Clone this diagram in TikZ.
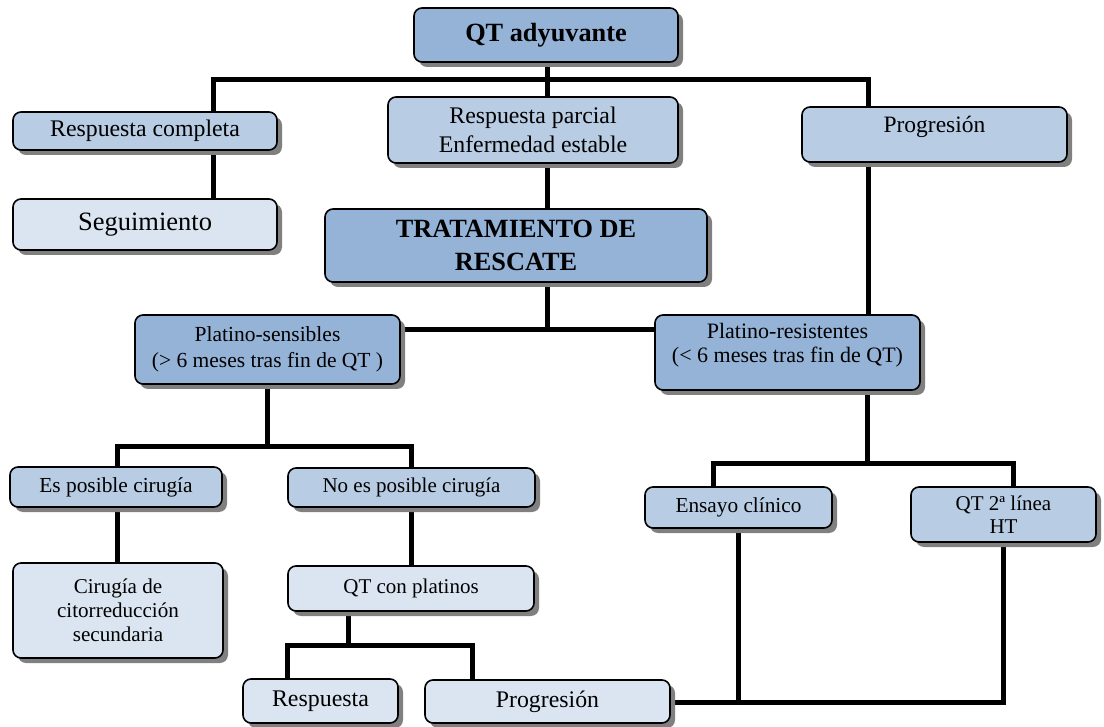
\documentclass[tikz,border=0pt]{standalone}
\usepackage{fontspec}
\setmainfont{Liberation Serif}
\usetikzlibrary{shadows,backgrounds}
\definecolor{cdark}{HTML}{95B3D7}
\definecolor{cmid}{HTML}{B8CCE4}
\definecolor{clight}{HTML}{DBE5F1}
\newcommand{\fs}[2]{\fontsize{#1}{#2}\selectfont}
\tikzset{
 box/.style={draw=black, line width=1.6pt, rounded corners=8pt, align=center, inner sep=0pt,
   drop shadow={shadow xshift=5pt, shadow yshift=-5pt, fill=black!50, opacity=1}},
 dk/.style={box, fill=cdark},
 md/.style={box, fill=cmid},
 lt/.style={box, fill=clight},
 conn/.style={line width=5pt, draw=black, line join=miter},
}
\begin{document}
\begin{tikzpicture}[x=1pt,y=-1pt]
\useasboundingbox (0,0) rectangle (1104,727);
% boxes
\node[dk, minimum width=264pt, minimum height=54pt, font=\fs{26.3}{30}\bfseries] (qt) at (546,35) {QT adyuvante};
\node[md, minimum width=264pt, minimum height=38pt, font=\fs{23.8}{27}] (rc) at (145,131) {Respuesta completa};
\node[lt, minimum width=264pt, minimum height=51pt, font=\fs{26.5}{30}] (seg) at (145,224.5) {Seguimiento};
\node[md, minimum width=290pt, minimum height=66pt, font=\fs{23.8}{29}] (rp) at (533,130) {Respuesta parcial\\Enfermedad estable};
\node[md, minimum width=265pt, minimum height=55pt] (prog) at (934.5,134.5) {};
\node[font=\fs{23.5}{27}, anchor=base, inner sep=0pt] (progT) at (934.5,133) {Progresión};
\node[dk, minimum width=382pt, minimum height=73pt, font=\fs{26.3}{33}\bfseries] (trat) at (516,245.5) {TRATAMIENTO DE\\RESCATE};
\node[dk, minimum width=265pt, minimum height=69pt, font=\fs{21.5}{26}] (ps) at (267.5,349.5) {Platino-sensibles\\(> 6 meses tras fin de QT )};
\node[dk, minimum width=265pt, minimum height=75pt] (pr) at (787.5,352.5) {};
\node[font=\fs{22}{24.5}, align=center, inner sep=0pt] (prT) at (787.5,345) {Platino-resistentes\\(< 6 meses tras fin de QT)};
\node[md, minimum width=212pt, minimum height=40pt, font=\fs{21.4}{25}] (esp) at (116,487) {Es posible cirugía};
\node[md, minimum width=247pt, minimum height=39pt, font=\fs{21}{25}] (nesp) at (411.5,487.5) {No es posible cirugía};
\node[md, minimum width=187pt, minimum height=41pt, font=\fs{21.3}{25}] (ens) at (738.5,507.5) {Ensayo clínico};
\node[md, minimum width=185pt, minimum height=55pt, font=\fs{21}{23}] (qt2) at (1003.5,514.5) {QT 2ª línea\\HT};
\node[lt, minimum width=210pt, minimum height=95pt, font=\fs{21.1}{24}] (cir) at (118,610.5) {Cirugía de\\citorreducción\\secundaria};
\node[lt, minimum width=246pt, minimum height=45pt, font=\fs{21}{25}] (qtp) at (411,588.5) {QT con platinos};
\node[lt, minimum width=155pt, minimum height=44pt, font=\fs{23.9}{27}] (resp) at (320.5,701) {Respuesta};
\node[lt, minimum width=245pt, minimum height=43pt, font=\fs{23.8}{27}] (prog2) at (547.5,701.5) {Progresión};
% connectors
\begin{pgfonlayer}{background}
\coordinate (a) at (547,80);
\coordinate (aL) at (213,80);
\coordinate (aR) at (868,80);
\draw[conn] (qt.south -| a) -- (a);
\draw[conn] (aL |- rc.north) -- (aL) -- (aR) -- (aR |- prog.north);
\draw[conn] (a) -- (a |- rp.north);
\draw[conn] (aL |- rc.south) -- (aL |- seg.north);
\draw[conn] (a |- rp.south) -- (a |- trat.north);
\draw[conn] (aR |- prog.south) -- (aR |- pr.north);
\coordinate (b) at (547,330);
\draw[conn] (b |- trat.south) -- (b);
\draw[conn] (ps.east |- b) -- (pr.west |- b);
\coordinate (c) at (267,447);
\coordinate (cL) at (117,447);
\coordinate (cR) at (411,447);
\draw[conn] (c |- ps.south) -- (c);
\draw[conn] (cL |- esp.north) -- (cL) -- (cR) -- (cR |- nesp.north);
\draw[conn] (cL |- esp.south) -- (cL |- cir.north);
\draw[conn] (cR |- nesp.south) -- (cR |- qtp.north);
\coordinate (d) at (867,463);
\coordinate (dL) at (713,463);
\coordinate (dR) at (1013,463);
\draw[conn] (d |- pr.south) -- (d);
\draw[conn] (dL |- ens.north) -- (dL) -- (dR) -- (dR |- qt2.north);
\coordinate (e) at (348,645);
\coordinate (eL) at (287,645);
\coordinate (eR) at (472,645);
\draw[conn] (e |- qtp.south) -- (e);
\draw[conn] (eL |- resp.north) -- (eL) -- (eR) -- (eR |- prog2.north);
\coordinate (f) at (738,702);
\coordinate (fR) at (1003,702);
\draw[conn] (f |- ens.south) -- (f);
\draw[conn] (prog2.east |- f) -- (fR) -- (fR |- qt2.south);
\end{pgfonlayer}
\end{tikzpicture}
\end{document}
